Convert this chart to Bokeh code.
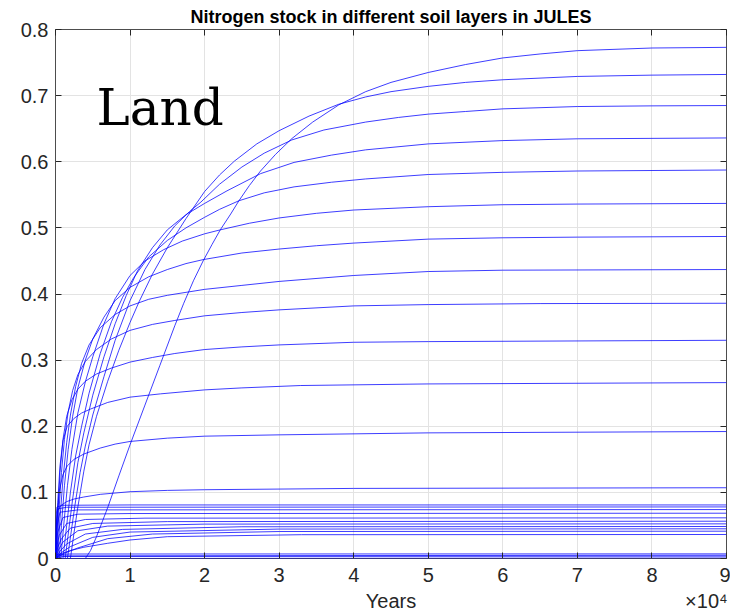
from bokeh.plotting import figure
from bokeh.models import Range1d, FixedTicker, CustomJSTickFormatter, LinearAxis
from bokeh.embed import file_html
from bokeh.resources import INLINE
from bokeh.core.properties import value

# Nitrogen stock per soil layer during spin-up.
# Time is in units of 10^4 years, stock in the model's N units.

# Slow (humus-like) pool, one curve per layer
slow_t = [
    [0.4, 0.47, 0.55, 0.7, 0.85, 1.0, 1.2, 1.4, 1.6, 1.72, 1.85, 1.98, 2.1, 2.21, 2.35, 2.46, 2.6, 2.75, 2.95, 3.17, 3.45, 3.8, 4.16, 4.5, 5, 5.5, 6, 6.5, 7, 8, 9],
    [0.2, 0.25, 0.3, 0.38, 0.45, 0.55, 0.7, 0.85, 1.0, 1.12, 1.3, 1.5, 1.75, 2.0, 2.2, 2.4, 2.7, 3.0, 3.4, 3.8, 4.16, 4.5, 5, 5.5, 6, 7, 8, 9],
    [0.16, 0.21, 0.26, 0.33, 0.4, 0.5, 0.65, 0.8, 1.0, 1.2, 1.4, 1.6, 1.8, 1.95, 2.2, 2.5, 2.8, 3.17, 3.6, 4.16, 4.6, 5, 5.5, 6, 7, 8, 9],
    [0.13, 0.18, 0.23, 0.3, 0.38, 0.5, 0.65, 0.8, 0.95, 1.1, 1.3, 1.5, 1.75, 2.0, 2.3, 2.75, 3.2, 3.7, 4.16, 5, 6, 7, 9],
    [0.1, 0.15, 0.2, 0.27, 0.35, 0.45, 0.6, 0.75, 0.9, 1.05, 1.25, 1.5, 1.75, 2.0, 2.2, 2.46, 2.8, 3.2, 3.7, 4.16, 5, 6, 7, 9],
    [0.07, 0.11, 0.16, 0.22, 0.3, 0.4, 0.5, 0.65, 0.8, 1.0, 1.2, 1.45, 1.7, 2.0, 2.21, 2.6, 3.0, 3.5, 4, 5, 6, 7, 9],
    [0.05, 0.08, 0.12, 0.17, 0.23, 0.3, 0.4, 0.5, 0.65, 0.8, 1.0, 1.25, 1.5, 1.75, 1.98, 2.5, 3, 3.5, 4, 5, 6, 7, 9],
    [0.03, 0.06, 0.1, 0.15, 0.2, 0.27, 0.35, 0.45, 0.6, 0.8, 1.0, 1.25, 1.5, 2.0, 2.5, 3, 4, 5, 6, 9],
    [0.02, 0.045, 0.08, 0.12, 0.17, 0.23, 0.3, 0.4, 0.55, 0.75, 1.0, 1.3, 1.6, 2, 2.5, 3, 4, 5, 6.5, 9],
    [0.01, 0.03, 0.06, 0.1, 0.15, 0.22, 0.3, 0.4, 0.55, 0.75, 1.0, 1.3, 1.6, 2, 2.5, 3, 4, 5, 9],
    [0, 0.015, 0.03, 0.06, 0.1, 0.157, 0.25, 0.35, 0.47, 0.7, 1.0, 1.41, 2, 2.5, 3.29, 5, 9],
    [0, 0.01, 0.025, 0.05, 0.1, 0.157, 0.25, 0.38, 0.6, 0.8, 1.0, 1.5, 2, 3, 5, 9],
    [0, 0.005, 0.015, 0.035, 0.07, 0.15, 0.25, 0.38, 0.6, 1.0, 1.5, 2, 4, 9],
]
slow_n = [
    [0, 0.012, 0.033, 0.077, 0.125, 0.172, 0.232, 0.292, 0.352, 0.386, 0.42, 0.45, 0.475, 0.497, 0.521, 0.541, 0.564, 0.586, 0.611, 0.635, 0.66, 0.686, 0.706, 0.72, 0.735, 0.747, 0.757, 0.763, 0.768, 0.772, 0.773],
    [0, 0.04, 0.078, 0.132, 0.172, 0.215, 0.268, 0.315, 0.357, 0.388, 0.43, 0.47, 0.514, 0.555, 0.58, 0.601, 0.627, 0.647, 0.669, 0.687, 0.698, 0.706, 0.714, 0.72, 0.724, 0.729, 0.731, 0.732],
    [0, 0.04, 0.08, 0.13, 0.17, 0.217, 0.275, 0.33, 0.39, 0.437, 0.474, 0.503, 0.525, 0.539, 0.566, 0.592, 0.613, 0.633, 0.648, 0.66, 0.667, 0.672, 0.676, 0.68, 0.6835, 0.6845, 0.685],
    [0, 0.045, 0.09, 0.145, 0.19, 0.247, 0.305, 0.355, 0.398, 0.435, 0.47, 0.497, 0.52, 0.537, 0.556, 0.582, 0.599, 0.61, 0.618, 0.627, 0.632, 0.6347, 0.636],
    [0, 0.05, 0.1, 0.155, 0.2, 0.25, 0.31, 0.358, 0.395, 0.425, 0.456, 0.481, 0.5, 0.516, 0.528, 0.541, 0.553, 0.562, 0.569, 0.574, 0.5807, 0.584, 0.586, 0.5875],
    [0, 0.05, 0.11, 0.165, 0.22, 0.267, 0.305, 0.355, 0.393, 0.428, 0.45, 0.467, 0.48, 0.491, 0.497, 0.507, 0.515, 0.522, 0.527, 0.532, 0.535, 0.536, 0.537],
    [0, 0.05, 0.11, 0.165, 0.215, 0.258, 0.3, 0.332, 0.365, 0.39, 0.41, 0.426, 0.437, 0.446, 0.452, 0.462, 0.468, 0.473, 0.477, 0.483, 0.485, 0.486, 0.487],
    [0, 0.06, 0.12, 0.175, 0.217, 0.26, 0.295, 0.323, 0.349, 0.369, 0.382, 0.392, 0.398, 0.407, 0.413, 0.419, 0.428, 0.434, 0.436, 0.437],
    [0, 0.07, 0.13, 0.18, 0.222, 0.254, 0.278, 0.298, 0.316, 0.332, 0.345, 0.354, 0.36, 0.367, 0.372, 0.376, 0.382, 0.384, 0.3855, 0.386],
    [0, 0.06, 0.13, 0.18, 0.215, 0.24, 0.256, 0.268, 0.279, 0.288, 0.297, 0.304, 0.31, 0.316, 0.32, 0.323, 0.327, 0.328, 0.330],
    [0, 0.04, 0.085, 0.14, 0.178, 0.2, 0.212, 0.22, 0.226, 0.236, 0.244, 0.249, 0.255, 0.258, 0.2616, 0.264, 0.266],
    [0, 0.035, 0.07, 0.102, 0.127, 0.14, 0.15, 0.158, 0.167, 0.173, 0.177, 0.182, 0.185, 0.187, 0.19, 0.192],
    [0, 0.03, 0.058, 0.073, 0.08, 0.086, 0.09, 0.093, 0.097, 0.101, 0.103, 0.104, 0.106, 0.107],
]

# Resistant plant-material pool, one curve per layer
mid_t = [
    [0, 0.005, 0.02, 0.1, 1, 9],
    [0, 0.008, 0.03, 0.15, 9],
    [0, 0.01, 0.02, 0.06, 0.3, 9],
    [0, 0.015, 0.03, 0.1, 0.3, 1, 9],
    [0, 0.02, 0.05, 0.15, 0.4, 1.2, 9],
    [0, 0.03, 0.08, 0.2, 0.5, 1.5, 9],
    [0, 0.04, 0.1, 0.3, 0.7, 2, 9],
    [0, 0.06, 0.15, 0.4, 0.9, 2.5, 9],
    [0, 0.08, 0.2, 0.5, 1.0, 3, 9],
    [0, 0.12, 0.3, 0.7, 1.3, 3, 9],
    [0, 0.07, 0.2, 0.38, 0.7, 1.0, 1.5, 3.3, 9],
]
mid_n = [
    [0, 0.06, 0.078, 0.0805, 0.081, 0.081],
    [0, 0.05, 0.075, 0.0775, 0.078],
    [0, 0.03, 0.05, 0.07, 0.0735, 0.074],
    [0, 0.025, 0.04, 0.062, 0.067, 0.068, 0.0685],
    [0, 0.02, 0.035, 0.053, 0.059, 0.061, 0.0615],
    [0, 0.017, 0.03, 0.046, 0.053, 0.0558, 0.0564],
    [0, 0.013, 0.025, 0.042, 0.049, 0.052, 0.0524],
    [0, 0.011, 0.022, 0.037, 0.044, 0.048, 0.0484],
    [0, 0.009, 0.018, 0.032, 0.040, 0.0445, 0.0449],
    [0, 0.008, 0.016, 0.030, 0.037, 0.0408, 0.0413],
    [0, 0.007, 0.012, 0.017, 0.023, 0.028, 0.033, 0.036, 0.0363],
]

# Fast pools (microbial / decomposable), close to zero
fast_t = [
    [0, 0.02, 0.2, 9],
    [0, 0.05, 9],
    [0, 0.1, 9],
    [0, 9],
]
fast_n = [
    [0, 0.006, 0.0068, 0.007],
    [0, 0.004, 0.005],
    [0, 0.003, 0.0035],
    [0, 0.0008],
]

x_ticks = [0, 1, 2, 3, 4, 5, 6, 7, 8, 9]
y_ticks = [0, 0.1, 0.2, 0.3, 0.4, 0.5, 0.6, 0.7, 0.8]
# second row under the x axis: axis name and the exponent of its ticks
x_caption_at = [4.5, 8.73]
x_captions = ["Years", "\u00d710\u2074"]

FONT = "Liberation Sans"
INK = "#262626"

p = figure(width=730, height=614, output_backend="svg", toolbar_location=None,
           x_range=Range1d(0, 9), y_range=Range1d(0, 0.8),
           min_border_left=55, min_border_right=4, min_border_top=29, min_border_bottom=56)

p.title.text = "Nitrogen stock in different soil layers in JULES"
p.title.align = "center"
p.title.vertical_align = "top"
p.title.text_font = FONT
p.title.text_font_size = "18px"
p.title.text_font_style = "bold"
p.title.text_color = "#000000"
p.title.standoff = 1

p.outline_line_color = "#4d4d4d"
p.outline_line_width = 1
p.background_fill_color = "white"
p.border_fill_color = "white"

for grid in (p.xgrid, p.ygrid):
    grid.grid_line_color = "#e3e3e3"
    grid.grid_line_width = 1
p.xgrid.ticker = FixedTicker(ticks=x_ticks)
p.ygrid.ticker = FixedTicker(ticks=y_ticks)

x_fmt = CustomJSTickFormatter(code="return tick.toFixed(0);")
y_fmt = CustomJSTickFormatter(code="return tick === 0 ? '0' : tick.toFixed(1);")

def style_axis(ax, ticks, fmt, show_labels):
    ax.ticker = FixedTicker(ticks=ticks)
    ax.formatter = fmt
    ax.major_tick_in = 6
    ax.major_tick_out = 0
    ax.minor_tick_line_color = None
    ax.axis_line_color = None
    ax.major_tick_line_color = INK
    ax.major_label_text_font = FONT
    ax.major_label_text_font_size = "20px"
    ax.major_label_text_color = INK
    if not show_labels:
        ax.major_label_text_alpha = 0
        ax.major_label_text_font_size = "0px"
        ax.major_label_standoff = 0

style_axis(p.xaxis[0], x_ticks, x_fmt, True)
style_axis(p.yaxis[0], y_ticks, y_fmt, True)
p.xaxis[0].major_label_standoff = 9
p.xaxis[0].major_label_text_line_height = 1.0
p.yaxis[0].major_label_standoff = 7

# caption row: no ticks, just the two texts
caption_axis = LinearAxis(ticker=FixedTicker(ticks=x_caption_at),
                          major_label_overrides=dict(zip(x_caption_at, x_captions)))
caption_axis.axis_line_color = None
caption_axis.major_tick_line_color = None
caption_axis.minor_tick_line_color = None
caption_axis.major_tick_in = 0
caption_axis.major_tick_out = 0
caption_axis.major_label_standoff = 5
caption_axis.major_label_text_font = FONT
caption_axis.major_label_text_font_size = "20px"
caption_axis.major_label_text_line_height = 1.0
caption_axis.major_label_text_color = INK
p.add_layout(caption_axis, "below")

top_axis = LinearAxis()
style_axis(top_axis, x_ticks, x_fmt, False)
p.add_layout(top_axis, "above")
right_axis = LinearAxis()
style_axis(right_axis, y_ticks, y_fmt, False)
p.add_layout(right_axis, "right")

line_kw = dict(line_color="#0000ff", line_width=0.9, line_alpha=0.85)
p.multi_line(xs=slow_t, ys=slow_n, **line_kw)
p.multi_line(xs=mid_t, ys=mid_n, **line_kw)
p.multi_line(xs=fast_t, ys=fast_n, **line_kw)

p.text(x=[0.55], y=[0.682], text=["Land"], text_font=value("DejaVu Serif"),
       text_font_size="50px", text_color="#000000", text_baseline="alphabetic")

open("out.html", "w").write(file_html(p, INLINE))
